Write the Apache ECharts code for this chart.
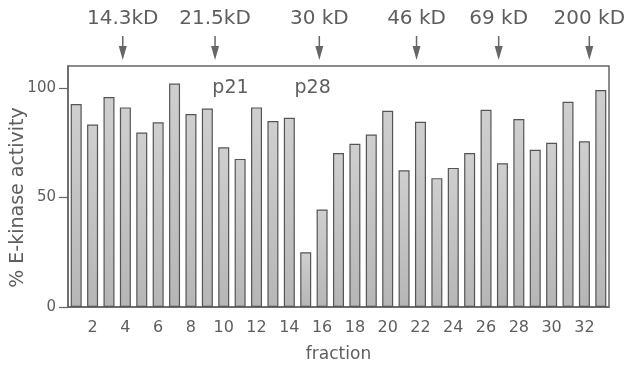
<!DOCTYPE html>
<html>
<head>
<meta charset="utf-8">
<script src="https://cdn.jsdelivr.net/npm/echarts@6/dist/echarts.min.js"></script>
<style>
  html, body { margin: 0; padding: 0; background: #fff; }
  #chart { width: 626px; height: 366px; }
</style>
</head>
<body>
<div id="chart"></div>
<script>
// fractions 1..33 off the gel-filtration column
const fractions = ['1', '2', '3', '4', '5', '6', '7', '8', '9', '10', '11',
  '12', '13', '14', '15', '16', '17', '18', '19', '20', '21', '22',
  '23', '24', '25', '26', '27', '28', '29', '30', '31', '32', '33']
const activity = [92.6, 83.3, 95.8, 91.1, 79.6, 84.3, 102, 88.1, 90.6, 72.9, 67.6,
  91.1, 84.9, 86.4, 25.0, 44.5, 70.3, 74.5, 78.7, 89.6, 62.4, 84.5,
  58.8, 63.5, 70.3, 90.0, 65.6, 85.8, 71.8, 75.0, 93.7, 75.6, 99.0]

// size markers (fraction position where they elute)
const markerLabels = ['14.3kD', '21.5kD', '30 kD', '46 kD', '69 kD', '200 kD']
const markerPos = [3.84, 9.47, 15.83, 21.76, 26.77, 32.3]

const peakLabels = ['p21', 'p28']
const peakPos = [10.41, 15.42]

const yTicks = [0, 50, 100]

const textColor = '#5e5e5e'
const lineColor = '#666'
const font = 'DejaVu Sans'

const chart = echarts.init(document.getElementById('chart'))

chart.setOption({
  animation: false,
  grid: {
    left: 68, right: 17, top: 66, bottom: 59,
    outerBoundsMode: 'none',
    containLabel: false,
    show: true,
    borderColor: lineColor,
    borderWidth: 1.5,
    backgroundColor: 'transparent'
  },
  xAxis: [{
    type: 'category',
    data: fractions,
    name: 'fraction',
    nameLocation: 'middle',
    nameGap: 39,
    nameMoveOverlap: false,
    nameTextStyle: { fontFamily: font, fontSize: 17, color: textColor },
    axisLine: { lineStyle: { color: lineColor, width: 1.5 } },
    axisTick: { alignWithLabel: true, interval: 0, length: 6, lineStyle: { color: lineColor, width: 1.2 } },
    axisLabel: {
      interval: (i) => i % 2 === 1,
      margin: 13,
      fontFamily: font, fontSize: 16, color: textColor
    }
  }, {
    type: 'value',
    min: 0.5,
    max: 33.5,
    show: false
  }],
  yAxis: {
    type: 'value',
    min: 0,
    max: 110,
    interval: 50,
    name: '% E-kinase activity',
    nameLocation: 'middle',
    nameGap: 40,
    nameMoveOverlap: false,
    nameTextStyle: { fontFamily: font, fontSize: 19, color: textColor, padding: [0, 22, 0, 0] },
    splitLine: { show: false },
    axisLine: { show: true, lineStyle: { color: lineColor, width: 1.5 } },
    axisTick: { show: true, length: 9, customValues: yTicks, lineStyle: { color: lineColor, width: 1.2 } },
    axisLabel: {
      margin: 12,
      customValues: yTicks,
      fontFamily: font, fontSize: 15, color: textColor
    }
  },
  series: [{
    type: 'bar',
    data: activity,
    barWidth: 11,
    itemStyle: {
      color: new echarts.graphic.LinearGradient(0, 0, 0, 1, [
        { offset: 0, color: '#cfcfcf' },
        { offset: 1, color: '#b6b6b6' }
      ]),
      borderColor: '#555',
      borderWidth: 1.2
    }
  }, {
    type: 'custom',
    xAxisIndex: 1,
    clip: false,
    data: markerPos.map(x => [x, 110]),
    renderItem: (params, api) => {
      const p = api.coord([api.value(0), api.value(1)])
      return {
        type: 'group',
        children: [{
          type: 'text',
          style: {
            text: markerLabels[params.dataIndex],
            x: p[0], y: p[1] - 47,
            align: 'center', verticalAlign: 'middle',
            fontFamily: font, fontSize: 20, fill: textColor
          }
        }, {
          type: 'line',
          shape: { x1: p[0], y1: p[1] - 30, x2: p[0], y2: p[1] - 15 },
          style: { stroke: lineColor, lineWidth: 1.5 }
        }, {
          type: 'polygon',
          shape: { points: [[p[0] - 4, p[1] - 20], [p[0] + 4, p[1] - 20], [p[0], p[1] - 6]] },
          style: { fill: lineColor }
        }]
      }
    }
  }, {
    type: 'custom',
    xAxisIndex: 1,
    clip: false,
    data: peakPos.map(x => [x, 100]),
    renderItem: (params, api) => {
      const p = api.coord([api.value(0), api.value(1)])
      return {
        type: 'text',
        style: {
          text: peakLabels[params.dataIndex],
          x: p[0], y: p[1],
          align: 'center', verticalAlign: 'middle',
          fontFamily: font, fontSize: 19, fill: textColor
        }
      }
    }
  }]
})
</script>
</body>
</html>
